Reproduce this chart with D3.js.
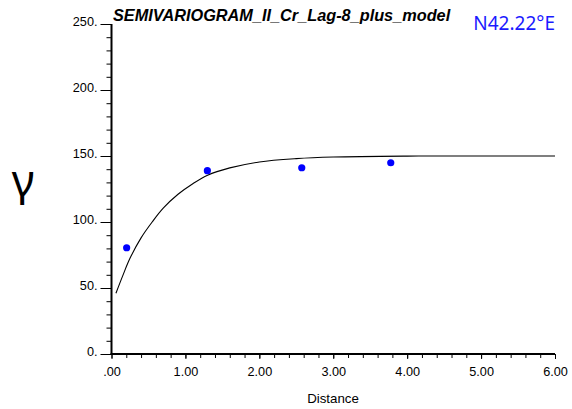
<!DOCTYPE html>
<html><head><meta charset="utf-8">
<script src="https://cdn.jsdelivr.net/npm/d3@7"></script>
<style>
html,body{margin:0;padding:0;background:#fff;}
svg{display:block;}
</style></head>
<body>
<svg id="chart" width="572" height="409"></svg>
<script>
// Experimental semivariogram points (lag distance, gamma)
const lagDistance = [0.205, 1.297, 2.574, 3.778];
const gammaValues = [80.5, 138.9, 141.1, 144.9];
// Model curve
const modelDistance = [0.06, 0.15, 0.25, 0.4, 0.55, 0.7, 0.9, 1.1, 1.3, 1.6, 2.0, 2.5, 3.0, 4.0, 5.0, 6.0];
const modelGamma    = [46, 59, 72.5, 88, 100, 110.5, 121, 129, 135.5, 141, 145.5, 148, 149.2, 149.9, 150, 150];
// Axis ticks
const xMajorTicks = [0, 1, 2, 3, 4, 5, 6];
const xTickLabels = [".00", "1.00", "2.00", "3.00", "4.00", "5.00", "6.00"];
const yMajorTicks = [0, 50, 100, 150, 200, 250];
const yTickLabels = ["0.", "50.", "100.", "150.", "200.", "250."];
const chartTitle = "SEMIVARIOGRAM_II_Cr_Lag-8_plus_model";
const directionLabel = "N42.22°E";
const xAxisTitle = "Distance";
const yAxisTitle = "γ";

const svg = d3.select("#chart");
const x = d3.scaleLinear().domain([0, 6]).range([111.5, 555]);
const y = d3.scaleLinear().domain([0, 250]).range([354, 24]);

const font = "Liberation Sans, Arial, sans-serif";

// Y axis: minor ticks
const yMinor = d3.range(0, 251, 10);
const yAxisMinor = d3.axisLeft(y).tickValues(yMinor).tickSize(5).tickFormat("");
const gYmin = svg.append("g").attr("transform", "translate(111.5,0)").call(yAxisMinor);
const yAxisMajor = d3.axisLeft(y).tickValues(yMajorTicks).tickSize(11).tickPadding(3)
  .tickFormat((d, i) => yTickLabels[i]);
const gY = svg.append("g").attr("transform", "translate(111.5,0)").call(yAxisMajor);

// X axis
const xMinor = d3.range(0, 30.5, 1).map(d => d * 0.2);
const xAxisMinor = d3.axisBottom(x).tickValues(xMinor).tickSize(4).tickFormat("");
const gXmin = svg.append("g").attr("transform", "translate(0,354)").call(xAxisMinor);
const xAxisMajor = d3.axisBottom(x).tickValues(xMajorTicks).tickSize(5).tickPadding(8)
  .tickFormat((d, i) => xTickLabels[i]);
const gX = svg.append("g").attr("transform", "translate(0,354)").call(xAxisMajor);

[gYmin, gY, gXmin, gX].forEach(g => {
  g.select(".domain").attr("stroke", "#000").attr("stroke-width", 2);
  g.selectAll(".tick line").attr("stroke", "#000").attr("stroke-width", 1);
  g.selectAll("text").attr("font-family", font).attr("font-size", 12.7).attr("fill", "#000");
});
gY.selectAll("text").attr("dy", "0.1em");
[gYmin, gXmin].forEach(g => g.select(".domain").attr("d", null));
gY.select(".domain").attr("d", `M0,${y(250)}V${y(0)}`);
gX.select(".domain").attr("d", `M${x(0)-1},0H${x(6)}`);

// Model curve
const line = d3.line().x((d, i) => x(modelDistance[i])).y((d, i) => y(modelGamma[i]))
  .curve(d3.curveCatmullRom.alpha(0.5));
svg.append("path").datum(modelGamma).attr("d", line)
  .attr("fill", "none").attr("stroke", "#000").attr("stroke-width", 1.1);

// Points
svg.selectAll("circle.pt").data(gammaValues).join("circle").attr("class", "pt")
  .attr("cx", (d, i) => x(lagDistance[i])).attr("cy", d => y(d))
  .attr("r", 3.6).attr("fill", "#0000ff");

// Title
svg.append("text").attr("x", 113).attr("y", 21)
  .attr("font-family", font).attr("font-size", 16.3).attr("font-weight", "bold")
  .attr("font-style", "italic").attr("fill", "#000").text(chartTitle);

svg.append("text").attr("x", 555).attr("y", 30).attr("text-anchor", "end")
  .attr("font-family", "Noto Sans, Open Sans, sans-serif").attr("font-size", 19)
  .attr("fill", "#1a1aff").text(directionLabel);

svg.append("text").attr("x", 333).attr("y", 403).attr("text-anchor", "middle")
  .attr("font-family", font).attr("font-size", 13.3).attr("fill", "#000").text(xAxisTitle);

svg.append("text").attr("x", 23).attr("y", 196).attr("text-anchor", "middle")
  .attr("font-family", "Noto Sans, sans-serif").attr("font-size", 44)
  .attr("fill", "#000").text(yAxisTitle);
</script>
</body></html>
